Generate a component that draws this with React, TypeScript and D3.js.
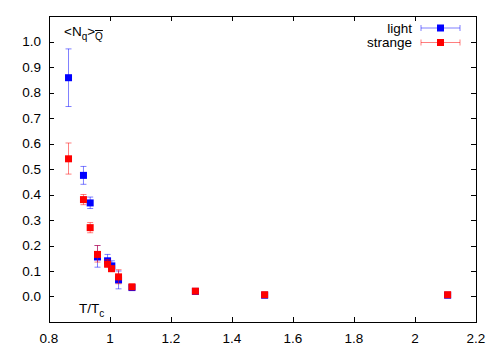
import React, { useEffect, useRef } from 'react';
import * as d3 from 'd3';

// light quarks: T/Tc, value, error low, error high
const lightX = [0.864, 0.913, 0.935, 0.959, 0.992, 1.006, 1.028, 1.072, 1.28, 1.507, 2.107];
const lightY = [0.858, 0.475, 0.367, 0.155, 0.14, 0.12, 0.065, 0.035, 0.02, 0.005, 0.005];
const lightLo = [0.745, 0.44, 0.345, 0.115, 0.12, 0.1, 0.03, 0.025, 0.015, 0.0, 0.0];
const lightHi = [0.971, 0.51, 0.39, 0.2, 0.165, 0.14, 0.1, 0.045, 0.025, 0.01, 0.01];

// strange quarks
const strangeX = [0.864, 0.913, 0.935, 0.959, 0.992, 1.005, 1.028, 1.072, 1.28, 1.507, 2.107];
const strangeY = [0.54, 0.38, 0.27, 0.165, 0.127, 0.109, 0.077, 0.038, 0.021, 0.007, 0.007];
const strangeLo = [0.48, 0.36, 0.25, 0.135, 0.115, 0.098, 0.05, 0.03, 0.016, 0.003, 0.003];
const strangeHi = [0.602, 0.4, 0.29, 0.2, 0.145, 0.12, 0.105, 0.045, 0.026, 0.011, 0.011];

const xTicks = [0.8, 1, 1.2, 1.4, 1.6, 1.8, 2, 2.2];
const yTicks = [0, 0.1, 0.2, 0.3, 0.4, 0.5, 0.6, 0.7, 0.8, 0.9, 1.0];

const App = () => {
  const svgRef = useRef<SVGSVGElement>(null);

  useEffect(() => {
    const svg = d3.select(svgRef.current);
    svg.selectAll('*').remove();

    const left = 49, right = 476, top = 16, bottom = 322;
    const x = d3.scaleLinear().domain([0.8, 2.2]).range([left, right]);
    const y = d3.scaleLinear().domain([-0.1, 1.1]).range([bottom, top]);
    const font = 'Liberation Sans, Arial, sans-serif';
    const fs = 13.5;

    svg.append('rect').attr('width', 500).attr('height', 350).attr('fill', 'white');

    // ticks (inward, mirrored)
    const tl = 5;
    const g = svg.append('g').attr('stroke', '#000').attr('stroke-width', 1);
    xTicks.forEach(t => {
      const px = Math.round(x(t)) + 0.5;
      g.append('line').attr('x1', px).attr('x2', px).attr('y1', bottom).attr('y2', bottom - tl);
      g.append('line').attr('x1', px).attr('x2', px).attr('y1', top).attr('y2', top + tl);
    });
    yTicks.forEach(t => {
      const py = Math.round(y(t)) + 0.5;
      g.append('line').attr('x1', left).attr('x2', left + tl).attr('y1', py).attr('y2', py);
      g.append('line').attr('x1', right).attr('x2', right - tl).attr('y1', py).attr('y2', py);
    });

    svg.append('rect')
      .attr('x', left + 0.5).attr('y', top + 0.5)
      .attr('width', right - left).attr('height', bottom - top)
      .attr('fill', 'none').attr('stroke', '#000').attr('stroke-width', 1);

    svg.append('g').selectAll('text').data(xTicks).join('text')
      .attr('x', d => x(d)).attr('y', 343)
      .attr('text-anchor', 'middle')
      .attr('font-family', font).attr('font-size', fs)
      .text(d => d3.format('')(d));

    svg.append('g').selectAll('text').data(yTicks).join('text')
      .attr('x', 41).attr('y', d => y(d) + 4.5)
      .attr('text-anchor', 'end')
      .attr('font-family', font).attr('font-size', fs)
      .text(d => d.toFixed(1));

    const drawSeries = (xs: number[], ys: number[], lo: number[], hi: number[], color: string) => {
      const s = svg.append('g');
      xs.forEach((xv, i) => {
        const px = x(xv);
        const eb = s.append('g').attr('stroke', color).attr('stroke-opacity', 0.5).attr('stroke-width', 1);
        eb.append('line').attr('x1', px).attr('x2', px).attr('y1', y(lo[i])).attr('y2', y(hi[i]));
        eb.append('line').attr('x1', px - 3).attr('x2', px + 3).attr('y1', y(lo[i])).attr('y2', y(lo[i]));
        eb.append('line').attr('x1', px - 3).attr('x2', px + 3).attr('y1', y(hi[i])).attr('y2', y(hi[i]));
        s.append('rect')
          .attr('x', px - 3.5).attr('y', y(ys[i]) - 3.5)
          .attr('width', 7).attr('height', 7)
          .attr('fill', color);
      });
    };
    drawSeries(lightX, lightY, lightLo, lightHi, '#0000ff');
    drawSeries(strangeX, strangeY, strangeLo, strangeHi, '#ff0000');

    // legend
    const legend = [
      { name: 'light', color: '#0000ff' },
      { name: 'strange', color: '#ff0000' },
    ];
    legend.forEach((l, i) => {
      const ly = 28 + i * 14.5;
      svg.append('text')
        .attr('x', 412).attr('y', ly + 4.5)
        .attr('text-anchor', 'end')
        .attr('font-family', font).attr('font-size', fs)
        .text(l.name);
      const lg = svg.append('g').attr('stroke', l.color).attr('stroke-opacity', 0.5);
      lg.append('line').attr('x1', 421).attr('x2', 460).attr('y1', ly).attr('y2', ly);
      lg.append('line').attr('x1', 421).attr('x2', 421).attr('y1', ly - 3).attr('y2', ly + 3);
      lg.append('line').attr('x1', 460).attr('x2', 460).attr('y1', ly - 3).attr('y2', ly + 3);
      svg.append('rect').attr('x', 437).attr('y', ly - 3.5).attr('width', 7).attr('height', 7).attr('fill', l.color);
    });

    // axis annotations
    const nq = svg.append('text')
      .attr('x', 64).attr('y', 36)
      .attr('font-family', font).attr('font-size', fs);
    nq.append('tspan').text('<N');
    nq.append('tspan').attr('dy', 4).attr('font-size', 10).text('q');
    nq.append('tspan').attr('dy', -4).text('>');
    nq.append('tspan').attr('dy', 4).attr('font-size', 10).attr('text-decoration', 'overline').text('Q');

    const tt = svg.append('text')
      .attr('x', 79).attr('y', 313)
      .attr('font-family', font).attr('font-size', fs);
    tt.append('tspan').text('T/T');
    tt.append('tspan').attr('dy', 4).attr('font-size', 10).text('c');
  }, []);

  return (
    <svg ref={svgRef} width={500} height={350}
      style={{ position: 'absolute', left: 0, top: 0 }} />
  );
};

export default App;
